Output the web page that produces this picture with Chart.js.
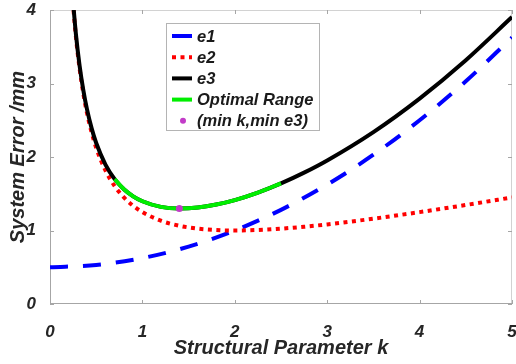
<!DOCTYPE html>
<html><head><meta charset="utf-8">
<script src="https://cdn.jsdelivr.net/npm/chart.js@4.4.0/dist/chart.umd.min.js"></script>
<style>html,body{margin:0;padding:0;background:#fff;}canvas{display:block;}</style>
</head><body>
<canvas id="c" width="516" height="364"></canvas>
<script>
// ---- data ----
const kE1 = [0, 0.5, 1, 1.5, 2, 2.5, 3, 3.5, 4, 4.5, 5];
const e1 = [0.5, 0.531, 0.625, 0.781, 1.0, 1.281, 1.625, 2.031, 2.5, 3.031, 3.625];
const kE = [0.24, 0.28, 0.32, 0.36, 0.4, 0.45, 0.5, 0.6, 0.7, 0.8, 0.9, 1.0, 1.2, 1.4, 1.6, 1.8, 2.0, 2.25, 2.5, 2.75, 3.0, 3.5, 4.0, 4.5, 5.0];
const e2 = [4.227, 3.641, 3.205, 2.868, 2.6, 2.335, 2.125, 1.817, 1.604, 1.45, 1.336, 1.25, 1.133, 1.064, 1.025, 1.006, 1.0, 1.007, 1.025, 1.051, 1.083, 1.161, 1.25, 1.347, 1.45];
const e3 = [4.257, 3.677, 3.246, 2.914, 2.651, 2.393, 2.19, 1.897, 1.699, 1.562, 1.465, 1.398, 1.321, 1.299, 1.313, 1.353, 1.414, 1.516, 1.641, 1.787, 1.953, 2.339, 2.795, 3.317, 3.904];
const kOpt = [0.7, 0.8, 0.9, 1.0, 1.2, 1.4, 1.6, 1.8, 2.0, 2.25, 2.5];
const eOpt = [1.699, 1.562, 1.465, 1.398, 1.321, 1.299, 1.313, 1.353, 1.414, 1.516, 1.641];
const minK = [1.4];
const minE3 = [1.3];
const xTicks = [0, 1, 2, 3, 4, 5];
const yTicks = [0, 1, 2, 3, 4];
const seriesNames = ['e1', 'e2', 'e3', 'Optimal Range', '(min k,min e3)'];
const xTitle = 'Structural Parameter k';
const yTitle = 'System Error /mm';

const pts = (xs, ys) => xs.map((v, i) => ({x: v, y: ys[i]}));
const FONT = '"Liberation Sans", Arial, sans-serif';
const TXT = '#262626';

const frame = {
  id: 'frame',
  beforeDatasetsDraw(chart) {
    const {ctx, chartArea: a, scales: {x, y}} = chart;
    ctx.save();
    ctx.lineWidth = 1;
    ctx.strokeStyle = '#d2d2d2';
    ctx.beginPath();
    ctx.moveTo(a.left, a.top + 0.5); ctx.lineTo(a.right, a.top + 0.5);
    ctx.moveTo(a.right - 0.5, a.top); ctx.lineTo(a.right - 0.5, a.bottom);
    ctx.stroke();
    ctx.strokeStyle = '#a6a6a6';
    ctx.beginPath();
    ctx.moveTo(a.left + 0.5, a.top); ctx.lineTo(a.left + 0.5, a.bottom);
    ctx.moveTo(a.left, a.bottom - 0.5); ctx.lineTo(a.right, a.bottom - 0.5);
    xTicks.forEach(v => {
      const p = Math.round(x.getPixelForValue(v)) + 0.5;
      ctx.moveTo(p, a.bottom); ctx.lineTo(p, a.bottom - 4);
      ctx.moveTo(p, a.top); ctx.lineTo(p, a.top + 4);
    });
    yTicks.forEach(v => {
      const p = Math.round(y.getPixelForValue(v)) + 0.5;
      ctx.moveTo(a.left, p); ctx.lineTo(a.left + 4, p);
      ctx.moveTo(a.right, p); ctx.lineTo(a.right - 4, p);
    });
    ctx.stroke();
    ctx.restore();
  }
};

const legendBox = {
  id: 'legendBox',
  afterDatasetsDraw(chart) {
    const {ctx, chartArea: a} = chart;
    const L = a.left + 116, T = a.top + 13, W = 154, H = 108;
    ctx.save();
    ctx.fillStyle = '#fff';
    ctx.fillRect(L, T, W, H);
    ctx.strokeStyle = '#b4b4b4';
    ctx.lineWidth = 1;
    ctx.strokeRect(L + 0.5, T + 0.5, W - 1, H - 1);
    const ds = chart.data.datasets;
    const order = [0, 1, 2, 3, 4];
    order.forEach((di, i) => {
      const d = ds[di];
      const cy = T + 13 + i * 21.2;
      const x0 = L + 6, x1 = L + 26;
      if (di === 4) {
        ctx.fillStyle = d.backgroundColor;
        ctx.beginPath(); ctx.arc(L + 17, cy, 3, 0, Math.PI * 2); ctx.fill();
      } else {
        ctx.strokeStyle = d.borderColor;
        ctx.lineWidth = 4;
        ctx.setLineDash(di === 1 ? [4, 4.5] : []);
        ctx.beginPath(); ctx.moveTo(x0, cy); ctx.lineTo(x1, cy); ctx.stroke();
        ctx.setLineDash([]);
      }
      ctx.fillStyle = '#1a1a1a';
      ctx.font = 'italic bold 16.5px ' + FONT;
      ctx.textBaseline = 'middle';
      ctx.textAlign = 'left';
      ctx.fillText(d.label, L + 31, cy + 1);
    });
    ctx.restore();
  }
};

new Chart(document.getElementById('c'), {
  type: 'line',
  data: {
    datasets: [
      {label: seriesNames[0], data: pts(kE1, e1), borderColor: '#0000ff', borderWidth: 4, borderDash: [18, 15], pointRadius: 0, cubicInterpolationMode: 'monotone', order: 4, clip: 0},
      {label: seriesNames[1], data: pts(kE, e2), borderColor: '#ff0000', borderWidth: 4, borderDash: [4, 4.5], pointRadius: 0, cubicInterpolationMode: 'monotone', order: 3, clip: 0},
      {label: seriesNames[2], data: pts(kE, e3), borderColor: '#000000', borderWidth: 4, pointRadius: 0, cubicInterpolationMode: 'monotone', order: 2, clip: 0},
      {label: seriesNames[3], data: pts(kOpt, eOpt), borderColor: '#00ee00', borderWidth: 4, pointRadius: 0, cubicInterpolationMode: 'monotone', order: 1, clip: 0},
      {label: seriesNames[4], data: pts(minK, minE3), borderColor: '#c23bc8', backgroundColor: '#c23bc8', showLine: false, pointRadius: 3.5, pointBorderWidth: 0, order: 0, clip: 0}
    ]
  },
  options: {
    responsive: false,
    animation: false,
    events: [],
    layout: {padding: {top: 10, right: 3, left: 0, bottom: 0}},
    plugins: {legend: {display: false}, tooltip: {enabled: false}},
    scales: {
      x: {
        type: 'linear', min: 0, max: 5,
        grid: {display: false}, border: {display: false},
        afterBuildTicks: s => { s.ticks = xTicks.map(v => ({value: v})); },
        ticks: {padding: 10, color: TXT, font: {family: FONT, size: 17, weight: 'bold', style: 'italic'}, maxRotation: 0, autoSkip: false},
        title: {display: true, text: xTitle, color: TXT, padding: {top: 0, bottom: 4}, font: {family: FONT, size: 20, weight: 'bold', style: 'italic'}},
        afterFit: s => { s.height = 60; s.paddingLeft = 0; s.paddingRight = 0; }
      },
      y: {
        type: 'linear', min: 0, max: 4,
        grid: {display: false}, border: {display: false},
        afterBuildTicks: s => { s.ticks = yTicks.map(v => ({value: v})); },
        ticks: {padding: 6, color: TXT, font: {family: FONT, size: 17, weight: 'bold', style: 'italic'}, autoSkip: false},
        title: {display: true, text: yTitle, color: TXT, padding: {top: 6, bottom: 0}, font: {family: FONT, size: 20, weight: 'bold', style: 'italic'}},
        afterFit: s => { s.width = 50; s.paddingTop = 0; s.paddingBottom = 0; }
      }
    }
  },
  plugins: [frame, legendBox]
});
</script>
</body></html>
